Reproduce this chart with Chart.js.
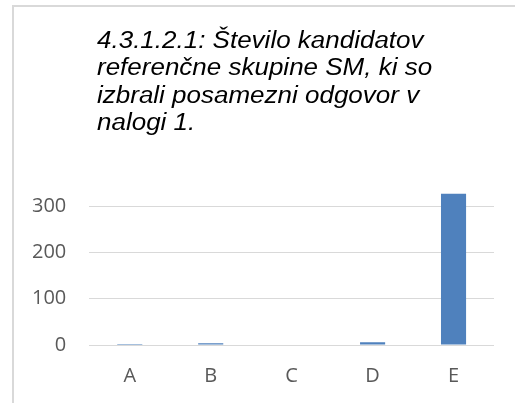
<!DOCTYPE html>
<html>
<head>
<meta charset="utf-8">
<script src="https://cdn.jsdelivr.net/npm/chart.js@4"></script>
<style>
  html, body { margin: 0; padding: 0; background: #fff; overflow: hidden; }
  #wrap { position: relative; width: 515px; height: 403px; overflow: hidden; }
  #frame { position: absolute; left: 12px; top: 5px; width: 700px; height: 600px;
           border-left: 2px solid #d9d9d9; border-top: 2px solid #d9d9d9; box-sizing: border-box; }
  canvas { position: absolute; left: 0; top: 0; }
</style>
</head>
<body>
<div id="wrap">
  <div id="frame"></div>
  <canvas id="c" width="515" height="420"></canvas>
</div>
<script>
const titleLines = [
  "4.3.1.2.1: Število kandidatov",
  "referenčne skupine SM, ki so",
  "izbrali posamezni odgovor v",
  "nalogi 1."
];
const categories = ["A", "B", "C", "D", "E"];
const counts = [2, 4, 0, 6, 327];
const yTicks = [0, 100, 200, 300];

const titlePlugin = {
  id: 'multiTitle',
  afterDraw(chart) {
    const ctx = chart.ctx;
    ctx.save();
    ctx.font = 'italic 23px "Liberation Sans", Arial, sans-serif';
    ctx.fillStyle = '#000000';
    ctx.textAlign = 'left';
    ctx.textBaseline = 'alphabetic';
    ctx.translate(97, 0);
    ctx.scale(1.13, 1);
    titleLines.forEach((line, i) => {
      ctx.fillText(line, 0, 47.5 + i * 27.6);
    });
    ctx.restore();
  }
};

new Chart(document.getElementById('c'), {
  type: 'bar',
  data: {
    labels: categories,
    datasets: [{
      data: counts,
      backgroundColor: '#4f81bd',
      borderWidth: 0,
      barPercentage: 1,
      categoryPercentage: 0.31
    }]
  },
  options: {
    responsive: false,
    animation: false,
    layout: { padding: { left: 9, right: 21, top: 183, bottom: 13 } },
    plugins: { legend: { display: false }, title: { display: false }, tooltip: { enabled: false } },
    scales: {
      x: {
        grid: { display: false, drawTicks: false },
        border: { display: false },
        ticks: { color: '#595959', font: { family: '"Open Sans"', size: 20 }, padding: 19 }
      },
      y: {
        min: 0,
        max: 350,
        afterBuildTicks(axis) { axis.ticks = yTicks.map(v => ({ value: v })); },
        grid: { color: '#d9d9d9', lineWidth: 1, drawTicks: false },
        border: { display: false },
        ticks: { color: '#595959', font: { family: '"Open Sans"', size: 20 }, padding: 23 }
      }
    }
  },
  plugins: [titlePlugin]
});
</script>
</body>
</html>
